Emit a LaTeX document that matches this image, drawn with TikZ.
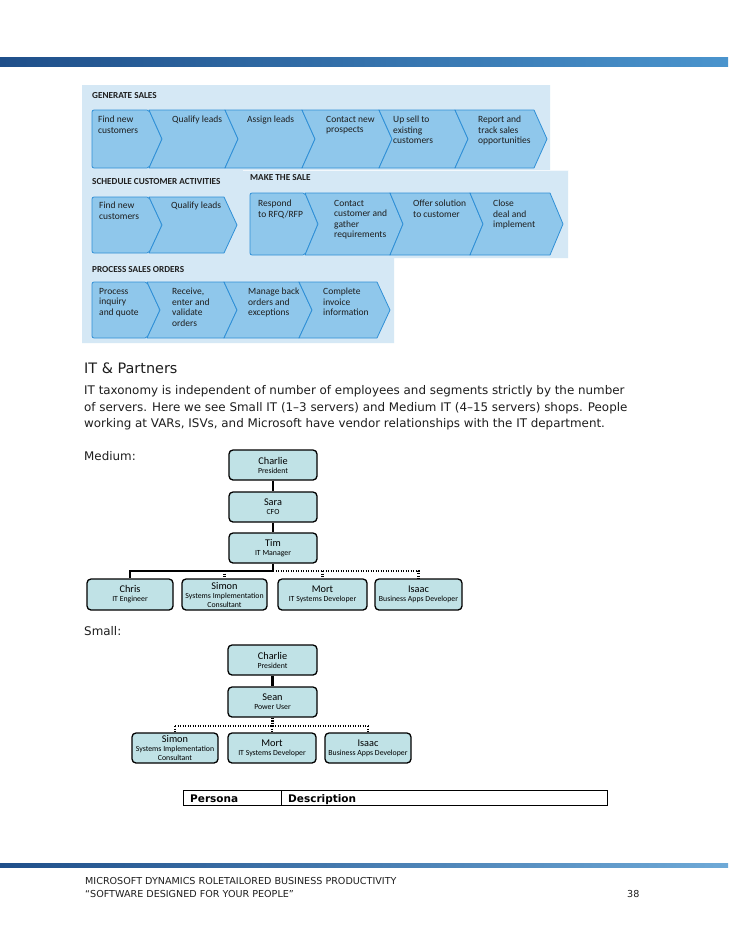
\documentclass[tikz,border=0pt]{standalone}
\usepackage{fontspec}
\setmainfont{DejaVu Sans}
\newfontfamily\cfont{Carlito}
\usetikzlibrary{calc}
\definecolor{panelbg}{HTML}{D5E8F5}
\definecolor{chevfill}{HTML}{8FC7EB}
\definecolor{chevline}{HTML}{2F8FD6}
\definecolor{orgfill}{HTML}{C0E2E6}
\definecolor{bardark}{HTML}{1F4F8A}
\definecolor{barlight}{HTML}{4A94CD}
\definecolor{txt}{HTML}{1E1E1E}
\newcommand\orgname[1]{{\fontsize{10.3}{11}\selectfont #1}}
\newcommand\chevS[4]{\path[chev,rounded corners=2pt] (#1,#3) -- (#2,#3) -- ({#2+13},{(#3+#4)/2}) -- (#2,#4) -- (#1,#4) -- cycle;}
\newcommand\chevN[4]{\path[chev] (#1,#3) -- (#2,#3) -- ({#2+13},{(#3+#4)/2}) -- (#2,#4) -- (#1,#4) -- ({#1+13},{(#3+#4)/2}) -- cycle;}
\tikzset{
 chev/.style={fill=chevfill, draw=chevline, line width=0.8pt, line join=round},
 chevtext/.style={anchor=north west, inner sep=0pt, align=left, text=txt, font=\cfont\fontsize{9.5}{10.5}\selectfont},
 panhead/.style={anchor=west, inner sep=0pt, text=txt, font=\cfont\bfseries\fontsize{9.2}{10}\selectfont},
 orgbox/.style={draw=black, line width=1.3pt, fill=orgfill, rounded corners=4pt, align=center, inner sep=0pt, text=black, font=\cfont\fontsize{7.8}{9}\selectfont},
 solidc/.style={line width=2.4pt, black},
 dotc/.style={line width=2.4pt, black, dash pattern=on 1.4pt off 1.1pt},
 body/.style={anchor=base west, inner sep=0pt, text=txt, font=\fontsize{11.9}{14}\selectfont},
 foot/.style={anchor=base west, inner sep=0pt, text=txt, font=\fontsize{9.6}{11}\selectfont},
}
\begin{document}
\begin{tikzpicture}[x=1pt,y=-1pt]
\useasboundingbox (0,0) rectangle (728,942);
\fill[white] (0,0) rectangle (728,942);
% top bar
\shade[left color=bardark, right color=barlight] (0,58) rectangle (728,67);
% panels
\fill[panelbg] (82,85) -- (550,85) -- (550,170) -- (568,170) -- (568,258) -- (394,258) -- (394,343) -- (82,343) -- cycle;
\draw[white!70!panelbg, line width=0.6pt] (243,170) -- (568,170);
% GENERATE SALES
\node[panhead] (hGS) at (92,96) {GENERATE SALES};
\chevS{92}{149}{110}{168}
\chevN{149}{225}{110}{168}
\chevN{225}{302}{110}{168}
\chevN{302}{379}{110}{168}
\chevN{379}{455}{110}{168}
\chevN{455}{534}{110}{168}
\node[chevtext] (g1) at (98,116) {Find new\\customers};
\node[chevtext] (g2) at (172,116) {Qualify leads};
\node[chevtext] (g3) at (247,116) {Assign leads};
\node[chevtext] (g4) at (326,116) {Contact new\\prospects};
\node[chevtext] (g5) at (393,116) {Up sell to\\existing\\customers};
\node[chevtext] (g6) at (478,116) {Report and\\track sales\\opportunities};
% SCHEDULE CUSTOMER ACTIVITIES
\node[panhead] (hSC) at (92,182) {SCHEDULE CUSTOMER ACTIVITIES};
\chevS{92}{149}{197}{253}
\chevN{149}{224}{197}{253}
\node[chevtext] (s1) at (99,202) {Find new\\customers};
\node[chevtext] (s2) at (171,202) {Qualify leads};
% MAKE THE SALE
\node[panhead] (hMS) at (250,178) {MAKE THE SALE};
\chevS{250}{305}{193}{255}
\chevN{305}{390}{193}{255}
\chevN{390}{470}{193}{255}
\chevN{470}{550}{193}{255}
\node[chevtext] (m1) at (258,200) {Respond\\to RFQ/RFP};
\node[chevtext] (m2) at (334,200) {Contact\\customer and\\gather\\requirements};
\node[chevtext] (m3) at (413,200) {Offer solution\\to customer};
\node[chevtext] (m4) at (493,200) {Close\\deal and\\implement};
% PROCESS SALES ORDERS
\node[panhead] (hPS) at (92,270) {PROCESS SALES ORDERS};
\chevS{92}{147}{282}{338}
\chevN{147}{224}{282}{338}
\chevN{224}{299}{282}{338}
\chevN{299}{377}{282}{338}
\node[chevtext] (p1) at (99,288) {Process\\inquiry\\and quote};
\node[chevtext] (p2) at (172,288) {Receive,\\enter and\\validate\\orders};
\node[chevtext] (p3) at (248,288) {Manage back\\orders and\\exceptions};
\node[chevtext] (p4) at (323,288) {Complete\\invoice\\information};
% text
\node[body, font=\fontsize{14.4}{16}\selectfont] (itp) at (84,373.5) {IT \& Partners};
\node[body] (l1) at (84,394.5) {IT taxonomy is independent of number of employees and segments strictly by the number};
\node[body] (l2) at (84,411) {of servers. Here we see Small IT (1–3 servers) and Medium IT (4–15 servers) shops. People};
\node[body] (l3) at (84,427.5) {working at VARs, ISVs, and Microsoft have vendor relationships with the IT department.};
\node[body] (med) at (84,460) {Medium:};
\node[body] (sml) at (84,635) {Small:};
% Medium org chart
\node[orgbox, minimum width=88pt, minimum height=30pt] (charlieM) at (273,465) {\orgname{Charlie}\\President};
\node[orgbox, minimum width=88pt, minimum height=30pt] (saraM) at (273,507) {\orgname{Sara}\\CFO};
\node[orgbox, minimum width=88pt, minimum height=30pt] (timM) at (273,548) {\orgname{Tim}\\IT Manager};
\node[orgbox, minimum width=86pt, minimum height=31pt] (chrisM) at (130,594.5) {\orgname{Chris}\\IT Engineer};
\node[orgbox, minimum width=85pt, minimum height=31pt] (simonM) at (224.5,594.5) {\orgname{Simon}\\Systems Implementation\\Consultant};
\node[orgbox, minimum width=89pt, minimum height=31pt] (mortM) at (322.5,594.5) {\orgname{Mort}\\IT Systems Developer};
\node[orgbox, minimum width=87pt, minimum height=31pt] (isaacM) at (418.5,594.5) {\orgname{Isaac}\\Business Apps Developer};
\coordinate (jM) at (273,571);
\draw[solidc] (charlieM) -- (saraM);
\draw[solidc] (saraM) -- (timM);
\draw[dotc] (jM) -- (jM -| isaacM) -- (isaacM.north);
\draw[dotc] (jM -| simonM) -- (simonM.north);
\draw[dotc] (jM -| mortM) -- (mortM.north);
\draw[solidc] (timM.south) -- (jM) -- (jM -| chrisM) -- (chrisM.north);
% Small org chart
\node[orgbox, minimum width=89pt, minimum height=30pt] (charlieS) at (272.5,660) {\orgname{Charlie}\\President};
\node[orgbox, minimum width=89pt, minimum height=30pt] (seanS) at (272.5,702) {\orgname{Sean}\\Power User};
\node[orgbox, minimum width=86pt, minimum height=30pt] (simonS) at (175,748) {\orgname{Simon}\\Systems Implementation\\Consultant};
\node[orgbox, minimum width=88pt, minimum height=30pt] (mortS) at (272,748) {\orgname{Mort}\\IT Systems Developer};
\node[orgbox, minimum width=86pt, minimum height=30pt] (isaacS) at (368,748) {\orgname{Isaac}\\Business Apps Developer};
\coordinate (jS) at (272.5,726);
\draw[solidc] (charlieS) -- (seanS);
\draw[dotc] (seanS.south) -- (jS);
\draw[dotc] (jS -| simonS) -- (jS -| isaacS);
\draw[dotc] (jS -| simonS) -- (simonS.north);
\draw[dotc] (jS -| mortS) -- (mortS.north);
\draw[dotc] (jS -| isaacS) -- (isaacS.north);
% table
\draw[line width=0.8pt] (183,790) rectangle (607,805);
\draw[line width=0.8pt] (281,790) -- (281,805);
\node[anchor=base west, inner sep=0pt, font=\bfseries\fontsize{10.5}{12}\selectfont] (persona) at (190,802) {Persona};
\node[anchor=base west, inner sep=0pt, font=\bfseries\fontsize{10.5}{12}\selectfont] (descr) at (288,802) {Description};
% footer
\shade[left color=bardark, right color=barlight!80!white] (0,863) rectangle (728,867);
\node[foot] (f1) at (85,884) {MICROSOFT DYNAMICS ROLETAILORED BUSINESS PRODUCTIVITY};
\node[foot] (f2) at (85,897.5) {“SOFTWARE DESIGNED FOR YOUR PEOPLE”};
\node[foot] (pg) at (627,897.5) {38};
\end{tikzpicture}
\end{document}
